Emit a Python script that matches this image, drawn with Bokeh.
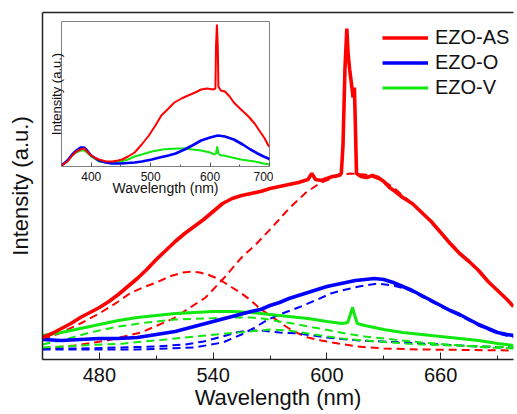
from bokeh.plotting import figure
from bokeh.models import Range1d, FixedTicker, LinearAxis, Legend, LegendItem
from bokeh.layouts import column
from bokeh.embed import file_html
from bokeh.resources import INLINE

# ---------------- main panel data (wavelength nm, intensity a.u.) ----------------
as_wl = [450,455,460,465,470,475,480,485,490,495,500,505,510,515,520,525,530,535,540,545,550,555,560,565,570,575,580,585,590,
         592,594,597,600,603,606,607.6,608.5,609.5,610.5,611.2,612,613,613.8,614.5,615,615.6,
         618,621,624,627,630,633,636,640,645,650,655,660,665,670,675,680,685,690,695,698.4]
as_int = [22,26,31,36,42,47,52,58,65,73,81,90,100,109,118,126,133,140,148,156,161,164,166,168,171,173,175,177,180,
          186,180,179,181,183,184,186,215,290,331,305,290,275,262,272,235,186,
          183,182,184,182,178,172,168,162,156,147,138,127,116,106,98,89,78,69,60,53]

as_fit1_wl = [450,460,470,480,490,496,503,510,517,524,529,533,537,541,545,550,555,560,564,570,576,580,585,590,597,606,616,630,650,675,698.4]
as_fit1_int = [20,27,36,46,58,66,72,77,83,87,88,87,85,82,78,72,66,59,52,44,36,31,26,22,19,16,13,11,10,9.5,9]
as_fit2_wl = [450,467,484,502,519,536,545,555,563,571,580,589,596,605,612,620,625,630,635,640,645,650,655,660,665,670,675,680,685,690,695,698.4]
as_fit2_int = [11,14,19,27,41,62,80,102,116,132,151,167,176,183,186,185,182,178,172,164,156,147,137,127,117,107,98,88,78,69,60,53]

o_wl = [450,460,470,480,490,500,510,520,530,540,550,560,565,570,575,580,585,590,595,600,605,610,615,620,625,630,635,640,645,650,655,660,665,670,675,680,685,690,695,698.4]
o_int = [20,19,20,21,21,22,25,28,33,38,43,48,50,54,57,61,64,67,70,73,75,77,79,80,81,80,77,73,69,64,59,54,49,45,40,35,31,27,25,24]
o_fit1_wl = [450,470,490,510,525,535,545,552,558,565,575,585,600,617,640,660,680,698.4]
o_fit1_int = [11,11,12,13,15,18,23,27,29,29,27,26,22,19,17,15,13,12]
o_fit2_wl = [450,500,530,545,555,562,568,575,585,595,602,610,617,627,635,643,650,655,660,670,680,690,698.4]
o_fit2_int = [10,10,12,17,25,32,39,45,52,60,66,70,73,76,74,70,63,58,53,44,34,26,22]

v_wl = [450,460,470,480,490,500,510,520,530,540,550,560,570,580,590,600,608,611,612.5,613.5,614.5,616,620,630,640,650,660,670,680,690,698.4]
v_int = [24,27,31,35,39,42,44,46,47,48,48,47,45,43,41,38,36,37,46,52,45,36,34,30,27,25,23,21,19,16,14]
v_fit1_wl = [450,460,475,490,505,520,536,550,560,566,575,582,590,599,610,620,635,650,670,685,698.4]
v_fit1_int = [15,19,27,33,37,40,41,42,42,41,38,36,33,30,26,23,20,17,14,12,11]
v_fit2_wl = [450,470,493,515,536,559,570,580,590,600,608,620,634,650,668,685,698.4]
v_fit2_int = [12,14,16,20,24,28,30,29,26,23,21,19,17,15,14,13,12]

x_major = [480, 540, 600, 660]
x_minor = [450, 510, 570, 630, 690]
labels = ["EZO-AS", "EZO-O", "EZO-V"]

# ---------------- inset data ----------------
in_as_wl = [350,360,368,375,382,388,393,398,405,413,425,435,445,452,462,473,485,497,508,518,530,540,552,563,575,585,595,605,609,610,
            611.5,613,614,618,625,633,640,652,663,675,685,692,698,700]
in_as_int = [1,5,11,15,17,18,15,12,9,7,5,5,6,7,10,14,22,31,41,51,58,64,68,71,74,77,78,77,78,120,
             142,120,80,76,75,70,64,57,51,43,34,28,21,20]
in_o_wl = [350,360,368,375,382,388,393,400,413,425,435,450,473,485,502,515,530,542,557,570,585,600,613,625,640,655,668,680,690,698,700]
in_o_int = [1,6,12,16,19,19,16,11,6,4,3,3,4,5,7,9,11,13,17,21,26,29,31,30,27,22,17,13,10,8,7]
in_v_wl = [350,360,368,375,382,388,393,400,413,425,435,450,462,473,485,502,520,530,545,557,570,585,600,607,610,612,614,618,623,637,652,675,690,700]
in_v_int = [1,5,11,14,16,16,14,10,5,4,4,5,7,10,12,15,17,17.5,18,18,17,16,14,12,13,20,13,11,11,9,7,5,3,2]
in_x_major = [400, 500, 600, 700]
in_x_minor = [450, 550, 650]

RED, BLUE, GREEN = "#ff0000", "#0000ff", "#10e810"
FONT = "Liberation Sans"
TXT = "#111111"
AX = "#222222"

# ---------------- main figure ----------------
p = figure(width=517, height=414, x_range=Range1d(450, 698.4), y_range=Range1d(0, 347),
           output_backend="svg", toolbar_location=None,
           min_border_left=42, min_border_right=0, min_border_top=12, min_border_bottom=55,
           outline_line_color=None)
p.grid.visible = False

dash = "8 5"
p.line(as_fit1_wl, as_fit1_int, color=RED, line_width=2, line_dash=dash)
p.line(as_fit2_wl, as_fit2_int, color=RED, line_width=2, line_dash=dash)
p.line(o_fit1_wl, o_fit1_int, color=BLUE, line_width=2, line_dash=dash)
p.line(o_fit2_wl, o_fit2_int, color=BLUE, line_width=2, line_dash=dash)
p.line(v_fit1_wl, v_fit1_int, color=GREEN, line_width=2, line_dash=dash)
p.line(v_fit2_wl, v_fit2_int, color=GREEN, line_width=2, line_dash=dash)

r_v = p.line(v_wl, v_int, color=GREEN, line_width=3)
r_o = p.line(o_wl, o_int, color=BLUE, line_width=3.6)
r_as = p.line(as_wl, as_int, color=RED, line_width=3.6)

xa = p.xaxis[0]
xa.ticker = FixedTicker(ticks=x_major, minor_ticks=x_minor)
xa.major_tick_in = 7
xa.major_tick_out = 0
xa.minor_tick_in = 4
xa.minor_tick_out = 0
xa.axis_line_width = 1.5
xa.axis_line_color = AX
xa.major_tick_line_color = AX
xa.minor_tick_line_color = AX
xa.major_label_text_font = FONT
xa.major_label_text_font_size = "20px"
xa.major_label_text_color = TXT
xa.major_label_standoff = 8
xa.axis_label = "Wavelength (nm)"
xa.axis_label_text_font = FONT
xa.axis_label_text_font_size = "22px"
xa.axis_label_text_font_style = "normal"
xa.axis_label_text_color = TXT
xa.axis_label_standoff = 0

ya = p.yaxis[0]
ya.ticker = FixedTicker(ticks=[])
ya.major_tick_in = 0
ya.major_tick_out = 0
ya.minor_tick_in = 0
ya.minor_tick_out = 0
ya.major_label_standoff = 0
ya.axis_line_width = 1.5
ya.axis_line_color = AX
ya.axis_label = "Intensity (a.u.)"
ya.axis_label_text_font = FONT
ya.axis_label_text_font_size = "22px"
ya.axis_label_text_font_style = "normal"
ya.axis_label_text_color = TXT
ya.axis_label_standoff = 10

top = LinearAxis(ticker=FixedTicker(ticks=[]), major_tick_in=0, major_tick_out=0,
                 minor_tick_in=0, minor_tick_out=0, major_label_standoff=0,
                 axis_line_width=1.5, axis_line_color=AX)
p.add_layout(top, "above")

legend = Legend(items=[LegendItem(label=labels[0], renderers=[r_as]),
                       LegendItem(label=labels[1], renderers=[r_o]),
                       LegendItem(label=labels[2], renderers=[r_v])],
                location=(340, 259), glyph_width=46, glyph_height=25, label_height=25,
                spacing=0, padding=0, margin=0, label_standoff=7,
                label_text_font=FONT, label_text_font_size="20px", label_text_color=TXT,
                border_line_color=None, background_fill_alpha=0)
p.add_layout(legend)

# ---------------- inset figure ----------------
ins = figure(width=254, height=183, x_range=Range1d(350, 700), y_range=Range1d(0, 145),
             output_backend="svg", toolbar_location=None,
             min_border_left=40, min_border_right=4, min_border_top=2, min_border_bottom=36,
             outline_line_color="#808080", outline_line_width=1,
             border_fill_alpha=0, background_fill_color="white")
ins.grid.visible = False
ins.line(in_v_wl, in_v_int, color=GREEN, line_width=2)
ins.line(in_o_wl, in_o_int, color=BLUE, line_width=2.6)
ins.line(in_as_wl, in_as_int, color=RED, line_width=2)

ix = ins.xaxis[0]
ix.ticker = FixedTicker(ticks=in_x_major, minor_ticks=in_x_minor)
ix.axis_line_color = None
ix.major_tick_in = 4
ix.major_tick_out = 0
ix.minor_tick_in = 2
ix.minor_tick_out = 0
ix.major_tick_line_color = "#555555"
ix.minor_tick_line_color = "#555555"
ix.major_label_text_font = FONT
ix.major_label_text_font_size = "12px"
ix.major_label_text_color = TXT
ix.major_label_standoff = 5
ix.axis_label = "Wavelength (nm)"
ix.axis_label_text_font = FONT
ix.axis_label_text_font_size = "14px"
ix.axis_label_text_font_style = "normal"
ix.axis_label_text_color = TXT
ix.axis_label_standoff = -4

iy = ins.yaxis[0]
iy.ticker = FixedTicker(ticks=[])
iy.axis_line_color = None
iy.major_tick_in = 0
iy.major_tick_out = 0
iy.minor_tick_in = 0
iy.minor_tick_out = 0
iy.major_label_standoff = 0
iy.axis_label = "Intensity (a.u.)"
iy.axis_label_text_font = FONT
iy.axis_label_text_font_size = "13px"
iy.axis_label_text_font_style = "normal"
iy.axis_label_text_color = TXT
iy.axis_label_standoff = -2

ins.styles = {"position": "absolute", "left": "19px", "top": "19px", "z-index": "5"}

layout = column(p, ins)
open("out.html", "w").write(file_html(layout, INLINE))
